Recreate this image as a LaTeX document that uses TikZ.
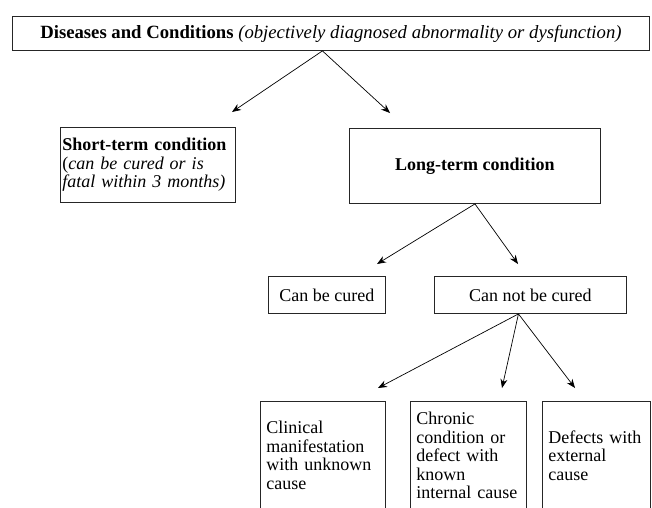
\documentclass[tikz,border=0pt]{standalone}
\usepackage{fontspec}
\setmainfont{Liberation Serif}
\usetikzlibrary{arrows.meta,positioning,calc}
\tikzset{
  box/.style={rectangle, draw=black!85, line width=0.9pt, inner xsep=6pt, inner ysep=2pt,
              anchor=north west, font=\fontsize{18}{18.5}\selectfont},
  tbox/.style={box, text width=#1-12pt, align=left},
  arr/.style={-{Stealth[length=9pt,width=7pt]}, line width=0.7pt},
}

\begin{document}
\begin{tikzpicture}[x=1pt, y=-1pt]
\clip (0,0) rectangle (652,507);
\fill[white] (0,0) rectangle (652,507);

% TOP
\node[box, minimum width=637pt, minimum height=34pt, font=\fontsize{18.7}{19}\selectfont] (dis) at (12,16)
  {\textbf{Diseases and Conditions} \textit{(objectively diagnosed abnormality or dysfunction)}};

% SECOND ROW
\node[box, text width=171pt, align=left, minimum width=175pt, minimum height=75pt, inner xsep=2pt] (short) at (60,127)
  {\textbf{Short-term condition}\\(\textit{can be cured or is}\\\textit{fatal within 3 months)}};
\node[box, minimum width=251pt, minimum height=75pt] (long) at (349,128) {\textbf{Long-term condition}};

% THIRD ROW
\node[box, minimum width=117pt, minimum height=37pt] (cured) at (268,276) {Can be cured};
\node[box, minimum width=192pt, minimum height=37pt] (notcured) at (434,276) {Can not be cured};

% BOTTOM ROW
\node[tbox=125pt, minimum width=125pt, minimum height=108pt] (unknown) at (260,401)
  {Clinical\\manifestation\\with unknown\\cause};
\node[tbox=116pt, minimum width=116pt, minimum height=108pt] (internal) at (410,401)
  {Chronic\\condition or\\defect with\\known\\internal cause};
\node[tbox=108pt, minimum width=108pt, minimum height=108pt] (external) at (542,401)
  {Defects with\\external\\cause};

% arrow tips
\coordinate (tshort) at (232,112);
\coordinate (tlong) at (390,113);
\coordinate (tcured) at (377,264);
\coordinate (tnot) at (518,264);
\coordinate (tunk) at (378,388);
\coordinate (tint) at (502,388);
\coordinate (tdef) at (575,388);

% Arrows
\draw[arr] ([xshift=-8.5pt]dis.south) -- (tshort);
\draw[arr] ([xshift=-8.5pt]dis.south) -- (tlong);
\draw[arr] (long.south) -- (tcured);
\draw[arr] (long.south) -- (tnot);
\draw[arr] ([xshift=-12pt]notcured.south) -- (tunk);
\draw[arr] ([xshift=-12pt]notcured.south) -- (tint);
\draw[arr] ([xshift=-12pt]notcured.south) -- (tdef);

\end{tikzpicture}
\end{document}
